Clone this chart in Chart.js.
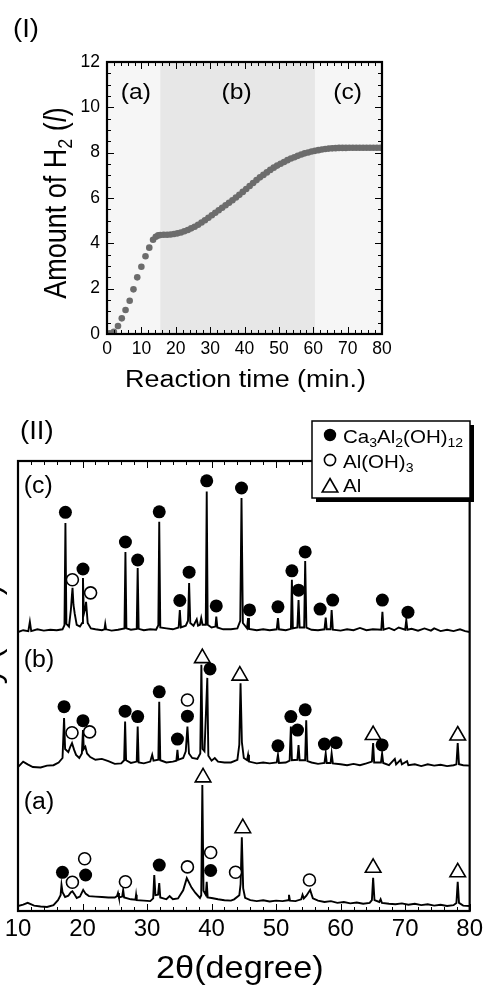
<!DOCTYPE html>
<html>
<head>
<meta charset="utf-8">
<script src="https://cdn.jsdelivr.net/npm/chart.js@4.4.1/dist/chart.umd.min.js"></script>
<style>
  html, body { margin: 0; padding: 0; background: #fff; }
  #wrap { position: relative; width: 487px; height: 985px; overflow: hidden; }
  canvas { position: absolute; left: 0; }
  #h2Chart { top: 0; }
  #xrdChart { top: 400px; }
</style>
</head>
<body>
<div id="wrap">
  <canvas id="h2Chart" width="487" height="400"></canvas>
  <canvas id="xrdChart" width="487" height="585"></canvas>
</div>
<script>
// ---- (I) hydrogen evolution ----
const h2Time = [0.3, 0.8, 2.0, 3.2, 4.3, 5.4, 6.6, 7.7, 8.8, 10.0, 11.2, 12.3, 13.4, 14.2, 14.9,
  15.5, 16.5, 17.5, 18.5, 19.5, 20.5, 21.5, 22.5, 23.5, 24.5, 25.5, 26.5, 27.5, 28.5, 29.5,
  30.5, 31.5, 32.5, 33.5, 34.5, 35.5, 36.5, 37.5, 38.5, 39.5, 40.5, 41.5, 42.5, 43.5, 44.5,
  45.5, 46.5, 47.5, 48.5, 49.5, 50.5, 51.5, 52.5, 53.5, 54.5, 55.5, 56.5, 57.5, 58.5, 59.5,
  60.5, 61.5, 62.5, 63.5, 64.5, 65.5, 66.5, 67.5, 68.5, 69.5, 70.5, 71.5, 72.5, 73.5, 74.5,
  75.5, 76.5, 77.5, 78.5, 79.5];
const h2Amount = [0.0, 0.03, 0.1, 0.35, 0.69, 1.06, 1.47, 1.97, 2.5, 2.97, 3.43, 3.81, 4.16, 4.29, 4.35,
  4.37, 4.38, 4.38, 4.39, 4.41, 4.44, 4.48, 4.53, 4.59, 4.66, 4.73, 4.82, 4.92, 5.02, 5.13,
  5.24, 5.35, 5.46, 5.57, 5.68, 5.79, 5.90, 6.02, 6.14, 6.27, 6.40, 6.53, 6.66, 6.79, 6.91,
  7.02, 7.13, 7.24, 7.34, 7.43, 7.51, 7.59, 7.67, 7.74, 7.80, 7.86, 7.92, 7.97, 8.01, 8.05,
  8.08, 8.11, 8.14, 8.16, 8.18, 8.19, 8.20, 8.21, 8.21, 8.21, 8.22, 8.22, 8.22, 8.22, 8.22,
  8.22, 8.22, 8.22, 8.22, 8.22];
const phaseBounds = [0, 15.5, 60.5, 80];
const phaseLabels = ['(a)', '(b)', '(c)'];
const phaseLabelX = [8.4, 37.7, 70.0];
const phaseLabelY = 10.35;
const phaseFill = ['#f6f6f6', '#e7e7e7', '#f6f6f6'];

// ---- (II) XRD patterns, [2theta, intensity] ----
const patternC = [[10.0,62.0],[10.8,62.4],[11.6,62.2],[11.84,64.3],[12.05,62.2],[13.0,62.6],[14.0,62.3],[15.0,62.5],[16.0,62.4],[16.9,62.6],[17.2,63.5],[17.35,86.2],[17.5,63.8],[17.9,63.2],[18.2,67.0],[18.35,70.0],[18.45,71.8],[18.6,68.0],[18.8,66.0],[19.1,63.6],[19.6,63.2],[19.95,64.0],[20.07,74.0],[20.2,66.0],[20.45,67.5],[20.55,68.7],[20.8,64.0],[21.3,62.8],[22.0,62.6],[23.0,62.4],[23.4,62.6],[23.52,63.8],[23.65,62.6],[24.5,62.3],[25.5,62.5],[26.5,62.8],[26.65,79.8],[26.8,62.8],[27.5,62.5],[28.4,62.7],[28.55,76.2],[28.7,62.7],[29.5,62.4],[30.5,62.6],[31.4,62.5],[31.75,63.5],[31.89,86.5],[32.05,63.0],[33.0,62.8],[34.0,62.6],[34.9,63.0],[35.08,66.9],[35.25,63.0],[36.0,63.4],[36.35,64.5],[36.52,72.9],[36.7,64.0],[37.2,63.4],[37.7,64.8],[37.9,63.4],[38.2,63.6],[38.4,65.1],[38.6,63.6],[39.1,63.6],[39.25,93.2],[39.4,63.6],[40.0,63.0],[40.6,63.2],[40.73,65.4],[40.9,63.0],[41.8,62.6],[43.0,62.6],[44.0,62.8],[44.45,64.5],[44.64,91.8],[44.85,64.0],[45.5,62.8],[45.66,65.1],[45.8,62.7],[47.0,62.4],[48.0,62.6],[49.0,62.4],[50.1,62.6],[50.29,65.1],[50.45,62.6],[51.5,62.4],[52.3,62.7],[52.45,73.6],[52.6,62.8],[53.3,63.0],[53.48,69.1],[53.65,63.0],[54.35,63.0],[54.51,77.8],[54.7,63.0],[55.5,62.5],[56.5,62.4],[57.5,62.6],[57.69,65.2],[57.85,62.6],[58.45,62.6],[58.61,66.9],[58.8,62.5],[60.0,62.3],[61.0,62.6],[62.0,62.4],[63.0,62.9],[64.0,62.4],[65.0,62.6],[66.3,62.5],[66.48,66.5],[66.65,62.5],[67.5,62.9],[68.3,62.4],[69.0,63.0],[70.0,62.5],[70.18,64.7],[70.35,62.5],[71.0,62.7],[72.0,62.3],[73.0,62.8],[74.0,62.3],[74.5,62.8],[75.5,62.2],[76.5,62.5],[77.5,62.2],[78.5,62.6],[79.3,62.2],[80.0,62.0]];
const patternB = [[10.0,32.0],[10.8,33.2],[11.5,32.6],[12.3,32.0],[13.5,31.9],[14.5,32.3],[15.5,32.4],[16.3,33.0],[16.9,34.0],[17.14,42.9],[17.3,36.0],[17.8,35.3],[18.1,36.5],[18.37,37.3],[18.7,35.8],[19.0,34.7],[19.5,34.0],[19.9,35.0],[20.07,40.2],[20.2,36.0],[20.44,36.5],[20.7,35.0],[21.2,34.2],[22.0,33.6],[23.0,33.8],[24.0,33.3],[25.0,32.7],[26.0,32.8],[26.45,33.5],[26.6,42.1],[26.75,33.5],[27.5,32.9],[28.4,33.2],[28.55,41.0],[28.7,33.0],[29.5,32.8],[30.5,33.2],[30.8,34.7],[31.0,33.4],[31.75,33.6],[31.89,46.5],[32.05,33.5],[33.0,33.0],[34.0,33.2],[34.55,33.4],[34.71,35.8],[34.85,33.6],[35.6,34.0],[36.0,35.5],[36.26,41.0],[36.5,35.0],[37.0,34.0],[37.8,33.8],[38.25,35.0],[38.42,54.7],[38.6,36.0],[38.9,35.5],[39.34,51.8],[39.5,34.5],[40.0,33.4],[40.5,34.0],[41.0,33.2],[42.0,33.0],[43.0,33.0],[44.0,33.6],[44.3,37.0],[44.49,50.6],[44.7,37.5],[45.0,34.0],[45.5,33.5],[45.66,34.7],[45.8,33.2],[47.0,32.8],[48.0,33.0],[49.0,32.8],[50.1,33.0],[50.29,34.7],[50.45,32.9],[51.5,33.0],[52.1,33.4],[52.29,41.0],[52.45,33.5],[53.3,33.6],[53.48,36.9],[53.65,33.5],[54.5,33.5],[54.67,42.4],[54.85,33.3],[55.5,33.0],[56.5,32.7],[57.5,32.9],[57.69,35.0],[57.85,32.9],[58.45,32.9],[58.61,35.0],[58.8,32.8],[60.0,32.6],[61.0,32.4],[62.0,32.7],[63.0,32.4],[64.0,32.8],[64.85,33.2],[65.04,37.3],[65.2,33.0],[66.25,33.0],[66.43,35.0],[66.6,32.9],[67.5,32.4],[68.4,33.8],[68.6,32.6],[69.3,33.6],[69.5,32.6],[70.3,33.3],[70.5,32.4],[71.5,32.6],[72.5,32.2],[73.5,32.6],[74.5,32.3],[75.5,32.5],[76.5,32.2],[77.5,32.4],[77.95,32.6],[78.15,37.3],[78.35,32.6],[79.0,32.4],[80.0,32.3]];
const patternA = [[10.0,1.1],[10.8,1.4],[11.5,1.8],[12.5,1.2],[13.5,1.0],[14.5,0.9],[15.5,1.3],[16.2,2.4],[16.6,3.5],[16.74,5.8],[16.9,4.2],[17.3,3.1],[17.8,3.4],[18.2,4.2],[18.43,4.4],[18.8,3.6],[19.1,2.9],[19.6,3.2],[20.1,4.7],[20.5,3.8],[21.0,3.3],[22.0,3.2],[23.0,3.1],[24.0,3.0],[25.0,3.0],[25.35,3.3],[25.5,4.0],[25.65,3.0],[26.15,3.2],[26.3,4.7],[26.45,3.0],[27.5,2.6],[28.2,2.5],[28.3,3.6],[28.4,2.4],[29.5,2.3],[30.5,2.2],[30.95,2.8],[31.12,8.0],[31.3,3.5],[31.7,3.6],[31.89,6.2],[32.05,3.0],[33.0,2.6],[33.5,3.3],[34.0,2.6],[34.8,2.8],[35.6,4.6],[36.16,7.3],[36.9,5.2],[37.5,4.0],[38.2,2.9],[38.4,3.5],[38.57,28.0],[38.75,4.5],[39.1,3.6],[39.25,6.5],[39.4,3.0],[40.0,2.9],[41.0,2.6],[42.0,2.4],[43.0,2.3],[43.5,2.6],[44.3,3.5],[44.5,6.0],[44.69,16.4],[44.9,5.0],[45.2,2.9],[46.0,2.4],[47.0,2.2],[48.0,2.4],[49.0,2.1],[50.0,2.3],[51.0,2.2],[51.85,2.4],[52.0,3.6],[52.15,2.3],[53.0,2.2],[53.9,2.6],[54.1,3.6],[54.3,2.8],[54.7,3.4],[55.28,4.7],[55.7,2.8],[56.5,2.3],[57.5,2.0],[58.5,2.2],[59.5,1.8],[60.5,2.0],[61.5,1.7],[62.5,1.9],[63.5,1.6],[64.5,1.8],[64.85,2.4],[65.04,7.4],[65.25,2.4],[66.0,2.0],[66.2,2.6],[66.4,1.8],[67.5,1.6],[68.5,1.5],[69.5,1.7],[70.5,1.4],[71.5,1.6],[72.5,1.3],[73.5,1.5],[74.5,1.2],[75.5,1.4],[76.5,1.1],[77.5,1.3],[77.95,1.8],[78.15,6.5],[78.35,1.8],[79.0,1.2],[80.0,1.1]];

// phase markers (c), (b), (a)
const caMarks = [[17.35,88.6],[20.07,76.0],[26.65,82.0],[28.55,78.0],[31.89,88.7],[35.08,69.0],[36.52,75.3],[39.25,95.6],[40.73,67.8],[44.64,94.0],[45.88,66.9],[50.29,67.6],[52.45,75.6],[53.48,71.3],[54.51,79.8],[56.82,67.1],[58.77,69.1],[66.47,69.1],[70.44,66.4],
  [17.14,45.4],[20.07,42.3],[26.6,44.4],[28.55,43.2],[31.89,48.7],[34.71,38.2],[36.26,43.3],[39.76,53.8],[50.29,36.7],[52.29,43.2],[53.32,40.2],[54.51,44.7],[57.49,37.1],[59.29,37.4],[66.43,36.9],
  [16.89,8.6],[20.48,8.0],[31.89,10.2],[39.86,9.0]];
const alohMarks = [[18.43,73.6],[21.25,70.7],
  [18.37,39.6],[21.1,39.8],[36.26,46.9],
  [18.43,6.4],[20.33,11.6],[26.65,6.5],[36.26,9.8],[39.86,13.0],[43.72,8.6],[55.17,6.9]];
const alMarks = [[38.57,56.2],[44.38,52.3],[65.04,39.1],[78.15,39.0],
  [38.68,29.7],[44.84,18.4],[65.04,9.6],[78.15,8.6]];
const traceLabels = ['(c)', '(b)', '(a)'];
const traceLabelY = [92.8, 54.2, 22.7];

const FONT = '"Liberation Sans", Arial, Helvetica, sans-serif';

// draw text made of parts [text, size, dy, italic]
function drawRich(ctx, parts, x, y, o = {}) {
  ctx.save();
  ctx.translate(x, y);
  if (o.stretch) ctx.scale(o.stretch, 1);
  if (o.rotate) ctx.rotate(o.rotate);
  ctx.textBaseline = 'alphabetic';
  ctx.textAlign = 'left';
  ctx.fillStyle = '#000';
  let total = 0;
  const widths = parts.map(([t, s, dy, it]) => {
    ctx.font = `${it ? 'italic ' : ''}${s}px ${FONT}`;
    const w = ctx.measureText(t).width;
    total += w;
    return w;
  });
  let cx = o.align === 'left' ? 0 : -total / 2;
  parts.forEach(([t, s, dy, it], i) => {
    ctx.font = `${it ? 'italic ' : ''}${s}px ${FONT}`;
    ctx.fillText(t, cx, dy || 0);
    cx += widths[i];
  });
  ctx.restore();
}

const axisFrame = {
  id: 'axisFrame',
  afterDatasetsDraw(chart, args, o) {
    const { ctx, chartArea: a, scales: { x, y } } = chart;
    ctx.save();
    ctx.strokeStyle = '#000';
    ctx.lineWidth = 1;
    ctx.beginPath();
    const nx = Math.round((x.max - x.min) / o.xMinor);
    for (let i = 0; i <= nx; i++) {
      const v = x.min + i * o.xMinor;
      const px = Math.round(x.getPixelForValue(v)) + 0.5;
      const len = Math.abs(v / o.xMajor - Math.round(v / o.xMajor)) < 1e-6 ? 7 : 4;
      ctx.moveTo(px, a.bottom);
      ctx.lineTo(px, a.bottom - len);
      ctx.moveTo(px, a.top);
      ctx.lineTo(px, a.top + len);
    }
    if (o.yMinor) {
      const ny = Math.round((y.max - y.min) / o.yMinor);
      for (let i = 0; i <= ny; i++) {
        const v = y.min + i * o.yMinor;
        const py = Math.round(y.getPixelForValue(v)) + 0.5;
        const len = Math.abs(v / o.yMajor - Math.round(v / o.yMajor)) < 1e-6 ? 7 : 4;
        ctx.moveTo(a.left, py);
        ctx.lineTo(a.left + len, py);
        ctx.moveTo(a.right, py);
        ctx.lineTo(a.right - len, py);
      }
    }
    ctx.stroke();
    ctx.lineWidth = 2.2;
    ctx.strokeRect(a.left, a.top, a.right - a.left, a.bottom - a.top);
    ctx.restore();
  }
};

const phaseShading = {
  id: 'phaseShading',
  beforeDatasetsDraw(chart) {
    const { ctx, chartArea: a, scales: { x, y } } = chart;
    ctx.save();
    for (let i = 0; i < phaseLabels.length; i++) {
      const x0 = x.getPixelForValue(phaseBounds[i]);
      const x1 = x.getPixelForValue(phaseBounds[i + 1]);
      ctx.fillStyle = phaseFill[i];
      ctx.fillRect(x0, a.top, x1 - x0, a.bottom - a.top);
    }
    ctx.restore();
    phaseLabels.forEach((t, i) => {
      drawRich(ctx, [[t, 22]], x.getPixelForValue(phaseLabelX[i]), y.getPixelForValue(phaseLabelY), { stretch: 1.12 });
    });
  }
};

const h2Text = {
  id: 'h2Text',
  afterDraw(chart) {
    const { ctx, chartArea: a } = chart;
    drawRich(ctx, [['(I)', 25]], 13, 36.5, { align: 'left', stretch: 1.1 });
    drawRich(ctx, [['Reaction time (min.)', 23]], (a.left + a.right) / 2 + 1, 387, { stretch: 1.17 });
    drawRich(ctx, [['Amount of H', 27], ['2', 18, 5], [' (', 27], ['l', 27, 0, true], [')', 27]],
      66, (a.top + a.bottom) / 2 + 5, { stretch: 1.15, rotate: -Math.PI / 2 });
  }
};

new Chart(document.getElementById('h2Chart'), {
  type: 'scatter',
  data: {
    datasets: [{
      label: 'H2',
      data: h2Time.map((t, i) => ({ x: t, y: h2Amount[i] })),
      pointRadius: 3.3,
      pointBackgroundColor: '#6c6c6c',
      pointBorderWidth: 0,
      showLine: false
    }]
  },
  options: {
    responsive: false,
    animation: false,
    events: [],
    layout: { padding: { left: 0, right: 105, top: 62, bottom: 0 } },
    plugins: {
      legend: { display: false },
      tooltip: { enabled: false },
      axisFrame: { xMinor: 2, xMajor: 10, yMinor: 0.5, yMajor: 2 }
    },
    scales: {
      x: {
        type: 'linear', min: 0, max: 80,
        grid: { display: false, drawTicks: false },
        border: { display: false },
        ticks: { stepSize: 10, autoSkip: false, maxRotation: 0, padding: 5, color: '#000', font: { family: FONT, size: 17.5 } },
        afterFit(scale) { scale.height = 66; }
      },
      y: {
        min: 0, max: 12,
        grid: { display: false, drawTicks: false },
        border: { display: false },
        ticks: { stepSize: 2, autoSkip: false, padding: 7, color: '#000', font: { family: FONT, size: 17.5 } },
        afterFit(scale) { scale.width = 107; }
      }
    }
  },
  plugins: [phaseShading, axisFrame, h2Text]
});

const xrdText = {
  id: 'xrdText',
  afterDraw(chart) {
    const { ctx, chartArea: a, scales: { x, y } } = chart;
    drawRich(ctx, [['(II)', 25]], 20, 39, { align: 'left', stretch: 1.1 });
    traceLabels.forEach((t, i) => {
      drawRich(ctx, [[t, 23]], x.getPixelForValue(10.9), y.getPixelForValue(traceLabelY[i]), { align: 'left', stretch: 1.08 });
    });
    drawRich(ctx, [['2θ(degree)', 32]], (a.left + a.right) / 2 - 4, 577.5, { stretch: 1.07 });
    drawRich(ctx, [['Intensity (a.u.)', 32]], 0, (a.top + a.bottom) / 2, { rotate: -Math.PI / 2 });

    // legend box with drop shadow
    const bx = 312, by = 21, bw = 158, bh = 77;
    ctx.save();
    ctx.fillStyle = '#000';
    ctx.fillRect(bx + 4, by + 4, bw, bh);
    ctx.fillStyle = '#fff';
    ctx.fillRect(bx, by, bw, bh);
    ctx.lineWidth = 1.5;
    ctx.strokeStyle = '#000';
    ctx.strokeRect(bx, by, bw, bh);
    // symbols
    ctx.beginPath();
    ctx.arc(330, 35, 6.2, 0, Math.PI * 2);
    ctx.fillStyle = '#000';
    ctx.fill();
    ctx.beginPath();
    ctx.arc(330, 60, 5.6, 0, Math.PI * 2);
    ctx.lineWidth = 1.6;
    ctx.stroke();
    const r = 9;
    ctx.beginPath();
    ctx.moveTo(330, 87.5 - r);
    ctx.lineTo(330 + r * Math.sin(Math.PI / 3), 87.5 + r / 2);
    ctx.lineTo(330 - r * Math.sin(Math.PI / 3), 87.5 + r / 2);
    ctx.closePath();
    ctx.stroke();
    ctx.restore();
    drawRich(ctx, [['Ca', 19], ['3', 13, 4], ['Al', 19], ['2', 13, 4], ['(OH)', 19], ['12', 13, 4]], 343, 43, { align: 'left', stretch: 1.08 });
    drawRich(ctx, [['Al(OH)', 19], ['3', 13, 4]], 343, 68, { align: 'left', stretch: 1.08 });
    drawRich(ctx, [['Al', 19]], 343, 92, { align: 'left', stretch: 1.08 });
  }
};

const toXY = (arr) => arr.map(([x, y]) => ({ x, y }));
const traceStyle = { showLine: true, pointRadius: 0, borderColor: '#000', borderWidth: 1.9, tension: 0 };

new Chart(document.getElementById('xrdChart'), {
  type: 'scatter',
  data: {
    datasets: [
      { label: 'Ca3Al2(OH)12', data: toXY(caMarks), pointStyle: 'circle', pointRadius: 6.5, pointBackgroundColor: '#000', pointBorderWidth: 0 },
      { label: 'Al(OH)3', data: toXY(alohMarks), pointStyle: 'circle', pointRadius: 6, pointBackgroundColor: '#fff', pointBorderColor: '#000', pointBorderWidth: 1.6 },
      { label: 'Al', data: toXY(alMarks), pointStyle: 'triangle', pointRadius: 9, pointBackgroundColor: '#fff', pointBorderColor: '#000', pointBorderWidth: 1.6 },
      { label: '(c)', data: toXY(patternC), ...traceStyle },
      { label: '(b)', data: toXY(patternB), ...traceStyle },
      { label: '(a)', data: toXY(patternA), ...traceStyle }
    ]
  },
  options: {
    responsive: false,
    animation: false,
    events: [],
    layout: { padding: { left: 18, right: 15, top: 61, bottom: 0 } },
    plugins: {
      legend: { display: false },
      tooltip: { enabled: false },
      axisFrame: { xMinor: 2, xMajor: 10 }
    },
    scales: {
      x: {
        type: 'linear', min: 10, max: 80,
        grid: { display: false, drawTicks: false },
        border: { display: false },
        ticks: { stepSize: 10, autoSkip: false, maxRotation: 0, padding: 4, color: '#000', font: { family: FONT, size: 24 } },
        afterFit(scale) { scale.height = 74; }
      },
      y: { display: false, min: 0, max: 100 }
    }
  },
  plugins: [axisFrame, xrdText]
});
</script>
</body>
</html>
